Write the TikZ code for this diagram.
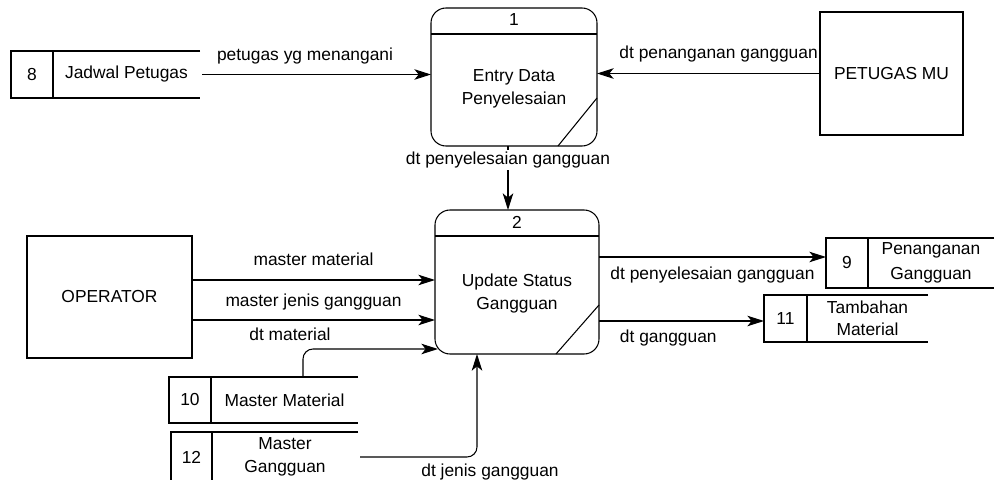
\documentclass[tikz,border=0pt]{standalone}
\usepackage{fontspec}
\setmainfont{Liberation Sans}
\usetikzlibrary{arrows.meta,calc}
\newdimen\pxu \pxu=0.02cm
\begin{document}
\begin{tikzpicture}[x=0.02cm,y=-0.02cm,
  line width=0.6pt,
  every node/.style={font=\fontsize{9.9}{12.8}\selectfont, inner sep=0pt, outer sep=0pt},
  flow/.style={-{Stealth[length=9.5pt,width=6pt,inset=2.5pt]}},
  process/.style={draw, rounded corners=15\pxu},
  entity/.style={draw},
  store/.style={},
  lbl/.style={align=center}]
\useasboundingbox (0,0) rectangle (995,480);
\clip (0,0) rectangle (995,480);

% ---------- processes ----------
\node[process, minimum width=166\pxu, minimum height=138\pxu] (p1) at (514,77) {};
\draw ($(p1.north west)+(0,26)$) -- ($(p1.north east)+(0,26)$);
\node (p1n) at ($(p1.north)+(0,12)$) {1};
\node[lbl] (p1t) at ($(p1.center)+(0,12)$) {Entry Data\\Penyelesaian};
\draw ($(p1.south east)+(0,-48)$) -- ($(p1.south east)+(-39,0)$);

\node[process, minimum width=164\pxu, minimum height=144\pxu] (p2) at (517,282) {};
\draw ($(p2.north west)+(0,26)$) -- ($(p2.north east)+(0,26)$);
\node (p2n) at ($(p2.north)+(0,12)$) {2};
\node[lbl] (p2t) at ($(p2.center)+(0,11.5)$) {Update Status\\Gangguan};
\draw ($(p2.south east)+(0,-49)$) -- ($(p2.south east)+(-43,0)$);

% ---------- external entities ----------
\node[entity, minimum width=143\pxu, minimum height=123\pxu] (pm) at (891.5,73.5) {PETUGAS MU};
\node[entity, minimum width=165\pxu, minimum height=122\pxu] (op) at (109.5,297) {OPERATOR};

% ---------- data stores ----------
% 8 Jadwal Petugas
\node[store, minimum width=189\pxu, minimum height=47\pxu] (s8) at (105.5,74.5) {};
\draw (s8.north east) -- (s8.north west) -- (s8.south west) -- (s8.south east);
\draw (s8.north west) ++(42,0) coordinate (s8d) -- (s8d |- s8.south);
\node (s8n) at ($(s8.west)!0.5!(s8d |- s8.west)$) {8};
\node[lbl] (s8t) at ($(s8d |- s8.center)!0.5!(s8.east)$) {Jadwal Petugas};

% 9 Penanganan Gangguan
\node[store, minimum width=168\pxu, minimum height=50\pxu] (s9) at (910,263) {};
\draw (s9.north east) -- (s9.north west) -- (s9.south west) -- (s9.south east);
\draw (s9.north west) ++(42,0) coordinate (s9d) -- (s9d |- s9.south);
\node (s9n) at ($(s9.west)!0.5!(s9d |- s9.west)$) {9};
\node[lbl, font=\fontsize{9.9}{14}\selectfont] (s9t) at ($(s9d |- s9.center)!0.5!(s9.east)$) {Penanganan\\Gangguan};

% 11 Tambahan Material
\node[store, minimum width=164\pxu, minimum height=47\pxu] (s11) at (846,318.5) {};
\draw (s11.north east) -- (s11.north west) -- (s11.south west) -- (s11.south east);
\draw (s11.north west) ++(43,0) coordinate (s11d) -- (s11d |- s11.south);
\node (s11n) at ($(s11.west)!0.5!(s11d |- s11.west)$) {11};
\node[lbl] (s11t) at ($(s11d |- s11.center)!0.5!(s11.east)$) {Tambahan\\Material};

% 10 Master Material
\node[store, minimum width=189\pxu, minimum height=46\pxu] (s10) at (263.5,400) {};
\draw (s10.north east) -- (s10.north west) -- (s10.south west) -- (s10.south east);
\draw (s10.north west) ++(42,0) coordinate (s10d) -- (s10d |- s10.south);
\node (s10n) at ($(s10.west)!0.5!(s10d |- s10.west)$) {10};
\node[lbl] (s10t) at ($(s10d |- s10.center)!0.5!(s10.east)$) {Master Material};

% 12 Master Gangguan
\node[store, minimum width=187\pxu, minimum height=50\pxu] (s12) at (264.5,457) {};
\draw (s12.north east) -- (s12.north west) -- (s12.south west) -- (s12.south east);
\draw (s12.north west) ++(41,0) coordinate (s12d) -- (s12d |- s12.south);
\node (s12n) at ($(s12.west)!0.5!(s12d |- s12.west)$) {12};
\node[lbl] (s12t) at ($(s12d |- s12.center)!0.5!(s12.east)$) {Master\\Gangguan};

% ---------- data flows ----------
\draw[flow] ([xshift=2\pxu]s8.east) -- (p1.west |- s8.east)
  node[pos=0.45, yshift=18\pxu] {petugas yg menangani};
\draw[flow] (pm.west) -- (p1.east |- pm.west)
  node[pos=0.01, anchor=east, yshift=19\pxu] {dt penanganan gangguan};
\draw[flow] (p1.south -| 508,0) -- (p2.north -| 508,0)
  node[pos=0.22, fill=white, inner sep=1pt] {dt penyelesaian gangguan};

\draw[flow] (op.east |- 0,280) -- (p2.west |- 0,280)
  node[midway, yshift=21\pxu] {master material};
\draw[flow] (op.east |- 0,320) -- (p2.west |- 0,320)
  node[midway, yshift=18\pxu] {master jenis gangguan};
\node (dtm) at (290,334) {dt material};
\draw[flow, rounded corners=10\pxu] (s10.north -| 303,0) |- ($(p2.west |- 0,349)+(3,0)$);
\draw[flow, rounded corners=10\pxu] ([xshift=2\pxu]s12.east) -| (p2.south -| 477,0);
\node (dtj) at (490,472) {dt jenis gangguan};

\draw[flow] (p2.east |- 0,257) -- (s9.west |- 0,257)
  node[midway, yshift=-18\pxu] {dt penyelesaian gangguan};
\draw[flow] (p2.east |- 0,321) -- (s11.west |- 0,321)
  node[pos=0.42, yshift=-17\pxu] {dt gangguan};
\end{tikzpicture}
\end{document}
